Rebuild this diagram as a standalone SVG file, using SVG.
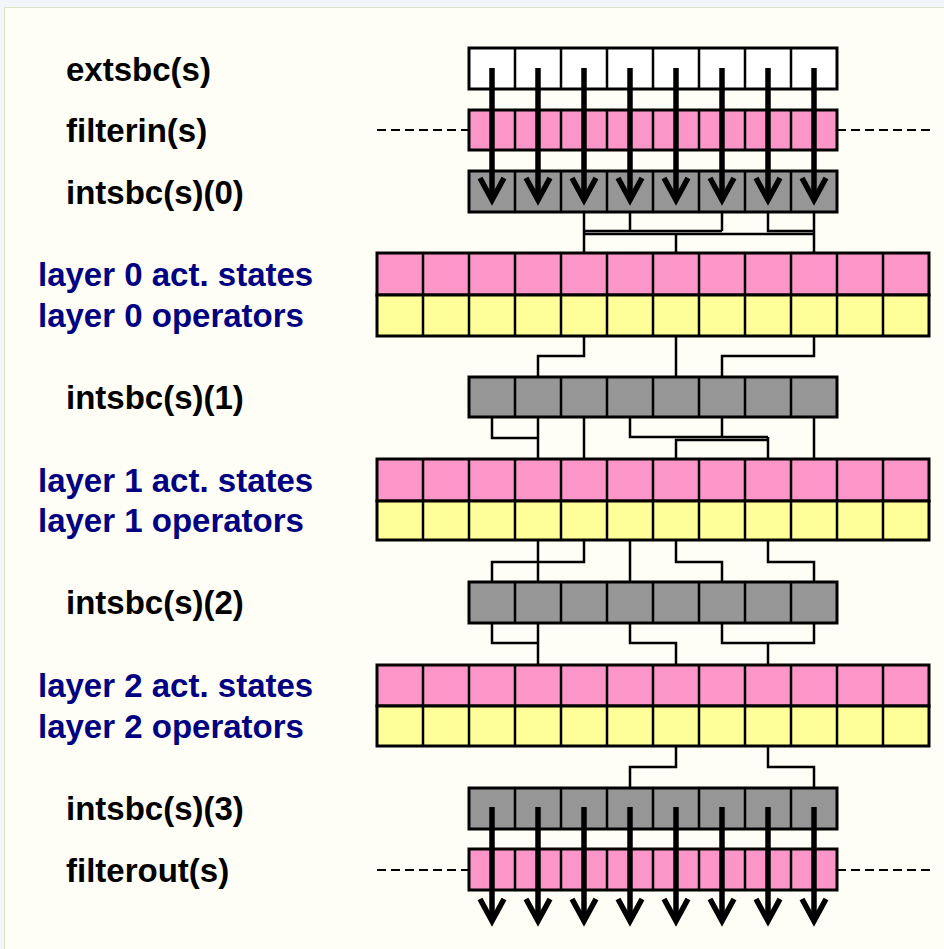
<svg xmlns="http://www.w3.org/2000/svg" width="944" height="949" viewBox="0 0 944 949">
<style>
  .lbl{font-family:"Liberation Sans",Arial,sans-serif;font-weight:bold;font-size:33px;fill:#000;}
  .lay{fill:#000080;}
  .box{stroke:#000;stroke-width:3;}
  .div{stroke:#000;stroke-width:2.5;fill:none;}
  .white{fill:#ffffff;}
  .pink{fill:#FC96C8;}
  .yellow{fill:#FFFF99;}
  .gray{fill:#969696;}
  .wire{stroke:#000;stroke-width:2.5;fill:none;}
  .dash{stroke:#000;stroke-width:2;stroke-dasharray:9 5;fill:none;}
  .arr{stroke:#000;stroke-width:5.5;fill:none;}
</style>
<defs>
  <marker id="head" markerUnits="userSpaceOnUse" markerWidth="40" markerHeight="40" viewBox="-30 -20 40 40" refX="0" refY="0" orient="auto" overflow="visible">
    <path d="M-22,-12 L0,0 L-22,12" fill="none" stroke="#000" stroke-width="5.5"/>
  </marker>
</defs>
<rect x="0" y="0" width="944" height="949" fill="#F2F6FA"/>
<rect x="4.5" y="7.5" width="940" height="942" fill="#FEFEF7" stroke="#DCE4C8" stroke-width="1"/>

<g id="labels">
  <text class="lbl" x="66" y="81">extsbc(s)</text>
  <text class="lbl" x="66" y="142">filterin(s)</text>
  <text class="lbl" x="66" y="204">intsbc(s)(0)</text>
  <text class="lbl lay" x="38" y="286">layer 0 act. states</text>
  <text class="lbl lay" x="38" y="327">layer 0 operators</text>
  <text class="lbl" x="66" y="409">intsbc(s)(1)</text>
  <text class="lbl lay" x="38" y="492">layer 1 act. states</text>
  <text class="lbl lay" x="38" y="532">layer 1 operators</text>
  <text class="lbl" x="66" y="614">intsbc(s)(2)</text>
  <text class="lbl lay" x="38" y="697">layer 2 act. states</text>
  <text class="lbl lay" x="38" y="738">layer 2 operators</text>
  <text class="lbl" x="66" y="820">intsbc(s)(3)</text>
  <text class="lbl" x="66" y="882">filterout(s)</text>
</g>

<g id="connectors">
  <path class="dash" d="M377,130H469M837,130H930M377,870H469M837,870H930"/>
  <!-- intsbc0 -> layer0 -->
  <path class="wire" d="M584,212V253M630,212V231M722,212V231M584,231H722M768,212V231H814M814,212V253M584,234H814M676,234V253"/>
  <!-- layer0 -> intsbc1 -->
  <path class="wire" d="M584,336V356H538V377M676,336V377M814,336V356H722V377"/>
  <!-- intsbc1 -> layer1 -->
  <path class="wire" d="M492,417V438H538M538,417V459M584,417V459M630,417V437H768M722,417V437M676,459V440H768V459M768,437V440M814,417V459"/>
  <!-- layer1 -> intsbc2 -->
  <path class="wire" d="M538,540V582M584,540V562H492V582M630,540V582M676,540V562H722V582M768,540V562H814V582"/>
  <!-- intsbc2 -> layer2 -->
  <path class="wire" d="M492,623V643H538M538,623V665M630,623V643H676V665M722,623V643H814V623M768,643V665"/>
  <!-- layer2 -> intsbc3 -->
  <path class="wire" d="M676,746V767H630V788M768,746V767H814V788"/>
</g>

<g id="extsbc">
  <rect class="box white" x="469" y="48" width="368" height="41"/>
  <path class="div" d="M515,48V89M561,48V89M607,48V89M653,48V89M699,48V89M745,48V89M791,48V89"/>
</g>
<g id="filterin">
  <rect class="box pink" x="469" y="110" width="368" height="40"/>
  <path class="div" d="M515,110V150M561,110V150M607,110V150M653,110V150M699,110V150M745,110V150M791,110V150"/>
</g>
<g id="intsbc0">
  <rect class="box gray" x="469" y="171" width="368" height="41"/>
  <path class="div" d="M515,171V212M561,171V212M607,171V212M653,171V212M699,171V212M745,171V212M791,171V212"/>
</g>
<g id="layer0-states">
  <rect class="box pink" x="377" y="253" width="552" height="42"/>
  <path class="div" d="M423,253V295M469,253V295M515,253V295M561,253V295M607,253V295M653,253V295M699,253V295M745,253V295M791,253V295M837,253V295M883,253V295"/>
</g>
<g id="layer0-operators">
  <rect class="box yellow" x="377" y="295" width="552" height="41"/>
  <path class="div" d="M423,295V336M469,295V336M515,295V336M561,295V336M607,295V336M653,295V336M699,295V336M745,295V336M791,295V336M837,295V336M883,295V336"/>
</g>
<g id="intsbc1">
  <rect class="box gray" x="469" y="377" width="368" height="40"/>
  <path class="div" d="M515,377V417M561,377V417M607,377V417M653,377V417M699,377V417M745,377V417M791,377V417"/>
</g>
<g id="layer1-states">
  <rect class="box pink" x="377" y="459" width="552" height="42"/>
  <path class="div" d="M423,459V501M469,459V501M515,459V501M561,459V501M607,459V501M653,459V501M699,459V501M745,459V501M791,459V501M837,459V501M883,459V501"/>
</g>
<g id="layer1-operators">
  <rect class="box yellow" x="377" y="501" width="552" height="39"/>
  <path class="div" d="M423,501V540M469,501V540M515,501V540M561,501V540M607,501V540M653,501V540M699,501V540M745,501V540M791,501V540M837,501V540M883,501V540"/>
</g>
<g id="intsbc2">
  <rect class="box gray" x="469" y="582" width="368" height="41"/>
  <path class="div" d="M515,582V623M561,582V623M607,582V623M653,582V623M699,582V623M745,582V623M791,582V623"/>
</g>
<g id="layer2-states">
  <rect class="box pink" x="377" y="665" width="552" height="41"/>
  <path class="div" d="M423,665V706M469,665V706M515,665V706M561,665V706M607,665V706M653,665V706M699,665V706M745,665V706M791,665V706M837,665V706M883,665V706"/>
</g>
<g id="layer2-operators">
  <rect class="box yellow" x="377" y="706" width="552" height="40"/>
  <path class="div" d="M423,706V746M469,706V746M515,706V746M561,706V746M607,706V746M653,706V746M699,706V746M745,706V746M791,706V746M837,706V746M883,706V746"/>
</g>
<g id="intsbc3">
  <rect class="box gray" x="469" y="788" width="368" height="41"/>
  <path class="div" d="M515,788V829M561,788V829M607,788V829M653,788V829M699,788V829M745,788V829M791,788V829"/>
</g>
<g id="filterout">
  <rect class="box pink" x="469" y="849" width="368" height="41"/>
  <path class="div" d="M515,849V890M561,849V890M607,849V890M653,849V890M699,849V890M745,849V890M791,849V890"/>
</g>

<g id="arrows">
  <g class="arr" marker-end="url(#head)">
    <path d="M492,68V200"/><path d="M538,68V200"/><path d="M584,68V200"/><path d="M630,68V200"/>
    <path d="M676,68V200"/><path d="M722,68V200"/><path d="M768,68V200"/><path d="M814,68V200"/>
    <path d="M492,807V921"/><path d="M538,807V921"/><path d="M584,807V921"/><path d="M630,807V921"/>
    <path d="M676,807V921"/><path d="M722,807V921"/><path d="M768,807V921"/><path d="M814,807V921"/>
  </g>
</g>
</svg>
